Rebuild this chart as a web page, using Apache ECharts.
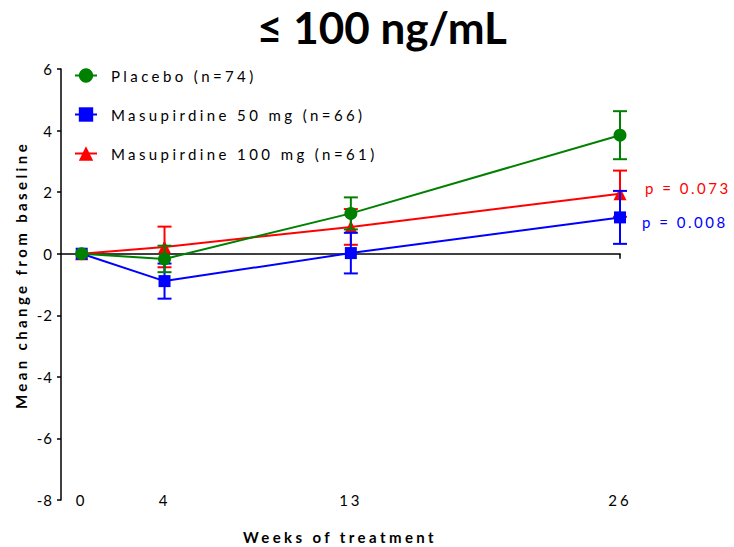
<!DOCTYPE html>
<html>
<head>
<meta charset="utf-8">
<script src="https://cdn.jsdelivr.net/npm/echarts@6/dist/echarts.min.js"></script>
<style>
  html, body { margin: 0; padding: 0; background: #fff; }
  #chart { width: 734px; height: 547px; }
  /* spaced-out lettering for axis titles, legend, tick and p labels */
  #chart text[style*="lsA"] { letter-spacing: 3.4px; }
  #chart text[style*="lsB"] { letter-spacing: 3px; }
  #chart text[style*="lsC"] { letter-spacing: 2.5px; }
  #chart text[style*="lsD"] { letter-spacing: 1px; }
</style>
</head>
<body>
<div id="chart"></div>
<script>
// Weeks of treatment (x positions) and tick labels
const weeks = [0, 4, 13, 26];
const xTickValues = [0, 4, 13, 26];

// Mean change from baseline and standard error per group
const placeboMean = [0, -0.17, 1.31, 3.85];
const placeboSE   = [0, 0.43, 0.52, 0.78];
const mas50Mean   = [0, -0.89, 0.02, 1.18];
const mas50SE     = [0, 0.57, 0.66, 0.86];
const mas100Mean  = [0, 0.22, 0.87, 1.95];
const mas100SE    = [0, 0.66, 0.58, 0.75];

const groupNames = ['Placebo (n=74)', 'Masupirdine 50 mg (n=66)', 'Masupirdine 100 mg (n=61)'];
const pLabels = ['', 'p = 0.008', 'p = 0.073'];

const titleText = '\u2264 100 ng/mL';
const yTitle = 'Mean change from baseline';
const xTitle = 'Weeks of treatment';

const groups = [
  { name: groupNames[0], mean: placeboMean, se: placeboSE, color: '#008000', symbol: 'circle', size: 13, z: 5, p: pLabels[0] },
  { name: groupNames[1], mean: mas50Mean, se: mas50SE, color: '#0000ff', symbol: 'rect', size: 12, z: 4, p: pLabels[1], pOff: [0, 5], pDist: 22 },
  { name: groupNames[2], mean: mas100Mean, se: mas100SE, color: '#ff0000', symbol: 'triangle', size: 13, z: 3, p: pLabels[2], pOff: [0, -6], pDist: 25 }
];

function errorBars(color) {
  return function (params, api) {
    const x = api.value(0), lo = api.value(1), hi = api.value(2);
    if (hi === lo) return null;
    const top = api.coord([x, hi]);
    const bot = api.coord([x, lo]);
    const w = 7;
    const st = { stroke: color, lineWidth: 2 };
    return {
      type: 'group',
      children: [
        { type: 'line', shape: { x1: top[0], y1: top[1], x2: bot[0], y2: bot[1] }, style: st },
        { type: 'line', shape: { x1: top[0] - w, y1: top[1], x2: top[0] + w, y2: top[1] }, style: st },
        { type: 'line', shape: { x1: bot[0] - w, y1: bot[1], x2: bot[0] + w, y2: bot[1] }, style: st }
      ]
    };
  };
}

const series = [];
// draw order: 100 mg at the back, placebo in front
[groups[2], groups[1], groups[0]].forEach(function (g) {
  series.push({
    name: g.name,
    type: 'line',
    z: g.z,
    data: weeks.map(function (w, i) { return [w, g.mean[i]]; }),
    symbol: g.symbol,
    symbolSize: g.size,
    showAllSymbol: true,
    itemStyle: { color: g.color },
    lineStyle: { color: g.color, width: 2 },
    endLabel: g.p ? {
      show: true,
      formatter: g.p,
      color: g.color,
      fontSize: 15,
      fontFamily: 'Lato, lsC',
      distance: g.pDist,
      offset: g.pOff
    } : { show: false }
  });
  series.push({
    name: g.name,
    type: 'custom',
    z: g.z,
    renderItem: errorBars(g.color),
    encode: { x: 0, y: [1, 2] },
    data: weeks.map(function (w, i) { return [w, g.mean[i] - g.se[i], g.mean[i] + g.se[i]]; })
  });
});

const chart = echarts.init(document.getElementById('chart'), null, { renderer: 'svg' });
chart.setOption({
  animation: false,
  backgroundColor: '#fff',
  grid: { left: 61, right: 114, top: 69, bottom: 47, containLabel: false },
  legend: {
    orient: 'vertical',
    left: 69,
    top: 63,
    itemWidth: 22,
    itemHeight: 18,
    itemGap: 24,
    data: groupNames,
    textStyle: { fontSize: 15, fontFamily: 'Lato, lsA', color: '#000', padding: [0, 0, 0, 9] }
  },
  xAxis: [
    {
      type: 'value',
      min: -1,
      max: 26,
      axisLine: { onZero: true, lineStyle: { color: '#000', width: 1.5 } },
      axisTick: { show: true, customValues: xTickValues, length: 5, lineStyle: { color: '#000', width: 1.5 } },
      axisLabel: { show: false },
      splitLine: { show: false }
    },
    {
      type: 'value',
      position: 'bottom',
      min: -1,
      max: 26,
      axisLine: { show: false, onZero: false },
      axisTick: { show: false },
      axisLabel: {
        customValues: xTickValues,
        margin: 0,
        verticalAlign: 'middle',
        fontSize: 15,
        fontFamily: 'Lato, lsB',
        color: '#000'
      },
      splitLine: { show: false }
    }
  ],
  yAxis: {
    type: 'value',
    min: -8,
    max: 6,
    interval: 2,
    axisLine: { show: true, onZero: false, lineStyle: { color: '#000', width: 1.5 } },
    axisTick: { show: true, length: 4, lineStyle: { color: '#000', width: 1.5 } },
    axisLabel: { fontSize: 15, fontFamily: 'Lato, lsD', color: '#000', margin: 8 },
    splitLine: { show: false }
  },
  graphic: [
    {
      type: 'text', x: 382, y: 27,
      style: { text: titleText, font: 'bold 44px Lato', fill: '#000', align: 'center', verticalAlign: 'middle' }
    },
    {
      type: 'text', x: 21, y: 275, rotation: Math.PI / 2,
      style: { text: yTitle, fontSize: 15, fontWeight: 'bold', fontFamily: 'Lato, lsA', fill: '#000', align: 'center', verticalAlign: 'middle' }
    },
    {
      type: 'text', x: 340, y: 537,
      style: { text: xTitle, fontSize: 15, fontWeight: 'bold', fontFamily: 'Lato, lsA', fill: '#000', align: 'center', verticalAlign: 'middle' }
    }
  ],
  series: series
});
</script>
</body>
</html>
